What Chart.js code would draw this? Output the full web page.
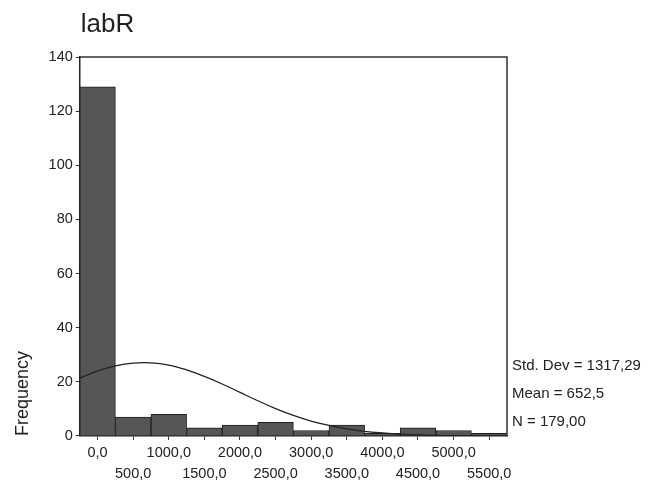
<!DOCTYPE html>
<html>
<head>
<meta charset="utf-8">
<script src="https://cdn.jsdelivr.net/npm/chart.js@4.4.1/dist/chart.umd.min.js"></script>
<style>
  html, body { margin: 0; padding: 0; background: #fff; }
  #wrap { width: 657px; height: 483px; position: relative; }
</style>
</head>
<body>
<div id="wrap"><canvas id="histChart"></canvas></div>
<script>
// bin centres and counts
var binCenters = [0, 500, 1000, 1500, 2000, 2500, 3000, 3500, 4000, 4500, 5000, 5500];
var binCounts = [129, 7, 8, 3, 4, 5, 2, 4, 1, 3, 2, 1];

// normal curve at 250 steps
var curveX = [-250, 0, 250, 500, 750, 1000, 1250, 1500, 1750, 2000, 2250, 2500, 2750,
              3000, 3250, 3500, 3750, 4000, 4250, 4500, 4750, 5000, 5250, 5500, 5750];
var curveY = [21.4, 24.0, 25.9, 26.9, 27.0, 26.2, 24.4, 22.0, 19.2, 16.1, 13.0, 10.1, 7.6,
              5.5, 3.9, 2.6, 1.7, 1.1, 0.65, 0.38, 0.2, 0.12, 0.06, 0.03, 0.01];

var xTickLabels = ['0,0', '500,0', '1000,0', '1500,0', '2000,0', '2500,0',
                   '3000,0', '3500,0', '4000,0', '4500,0', '5000,0', '5500,0'];
var yTicks = [0, 20, 40, 60, 80, 100, 120, 140];

var statsLines = ['Std. Dev = 1317,29', 'Mean = 652,5', 'N = 179,00'];
var chartTitle = 'labR';

var font = '"Liberation Sans", Arial, sans-serif';

// draws the frame, the title and the stats box text
var extrasPlugin = {
    id: 'extras',
    afterDraw: function(chart) {
        var ctx = chart.ctx;
        var a = chart.chartArea;
        ctx.save();
        ctx.strokeStyle = '#333';
        ctx.lineWidth = 1.5;
        ctx.beginPath();
        ctx.moveTo(a.left, a.top);
        ctx.lineTo(a.right, a.top);
        ctx.lineTo(a.right, a.bottom);
        ctx.stroke();

        ctx.fillStyle = '#222';
        ctx.font = '26px ' + font;
        ctx.textBaseline = 'alphabetic';
        ctx.fillText(chartTitle, a.left + 1, 32);

        ctx.font = '15px ' + font;
        for (var i = 0; i < statsLines.length; i++) {
            ctx.fillText(statsLines[i], a.right + 5, 370 + i * 28);
        }
        ctx.restore();
    }
};

var barData = binCenters.map(function(x, i) { return { x: x, y: binCounts[i] }; });
var lineData = curveX.map(function(x, i) { return { x: x, y: curveY[i] }; });

var ctx = document.getElementById('histChart').getContext('2d');
var myChart = new Chart(ctx, {
    type: 'bar',
    data: {
        datasets: [{
            type: 'line',
            data: lineData,
            borderColor: '#222',
            borderWidth: 1.3,
            pointRadius: 0,
            tension: 0.4,
            fill: false
        }, {
            data: barData,
            backgroundColor: '#565656',
            borderColor: '#1e1e1e',
            borderWidth: 1,
            barPercentage: 1,
            categoryPercentage: 1
        }]
    },
    plugins: [extrasPlugin],
    options: {
        responsive: true,
        maintainAspectRatio: false,
        animation: false,
        layout: {
            padding: { top: 57, right: 150, left: 12, bottom: -5 }
        },
        plugins: {
            legend: { display: false },
            tooltip: { enabled: false },
            title: { display: false }
        },
        scales: {
            x: {
                type: 'linear',
                min: -250,
                max: 5750,
                offset: false,
                afterBuildTicks: function(axis) {
                    axis.ticks = binCenters.map(function(v) { return { value: v }; });
                },
                grid: {
                    display: true,
                    offset: false,
                    drawOnChartArea: false,
                    drawTicks: true,
                    tickLength: 4,
                    color: '#333'
                },
                border: { display: true, color: '#222', width: 1.5 },
                ticks: {
                    autoSkip: false,
                    maxRotation: 0,
                    padding: 3,
                    color: '#222',
                    font: { family: font, size: 14.5, lineHeight: 1.45 },
                    callback: function(value, index) {
                        var label = xTickLabels[index];
                        return index % 2 === 0 ? [label, ''] : ['', label];
                    }
                }
            },
            y: {
                min: 0,
                max: 140,
                afterBuildTicks: function(axis) {
                    axis.ticks = yTicks.map(function(v) { return { value: v }; });
                },
                grid: {
                    display: true,
                    drawOnChartArea: false,
                    drawTicks: true,
                    tickLength: 4,
                    color: '#333'
                },
                border: { display: true, color: '#222', width: 1.5 },
                ticks: {
                    padding: 3,
                    color: '#222',
                    font: { family: font, size: 14.5 }
                },
                title: {
                    display: true,
                    text: 'Frequency',
                    align: 'start',
                    color: '#222',
                    padding: { top: 0, bottom: 12 },
                    font: { family: font, size: 18 }
                }
            }
        }
    }
});
</script>
</body>
</html>
